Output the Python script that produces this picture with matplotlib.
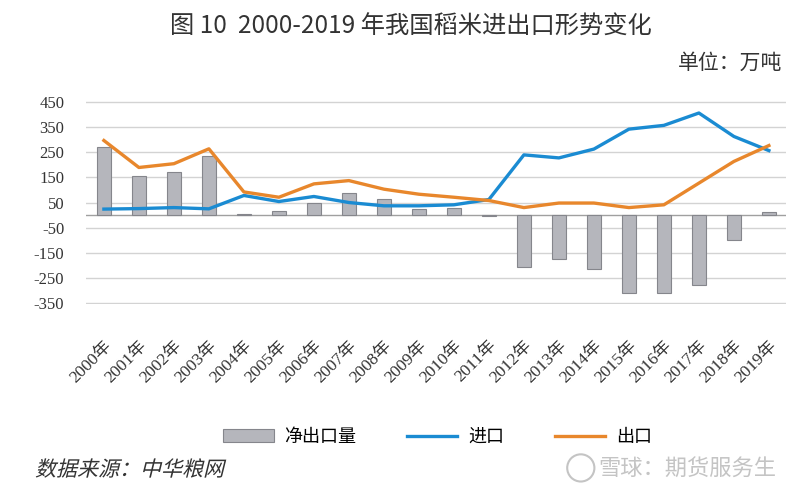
import numpy as np
import matplotlib
matplotlib.use('Agg')
import matplotlib.pyplot as plt
from matplotlib.textpath import TextPath
from matplotlib.patches import PathPatch, Ellipse
from matplotlib.font_manager import FontProperties
from matplotlib.transforms import Affine2D, IdentityTransform

plt.rcParams['font.family'] = ['Liberation Serif', 'Noto Sans CJK SC', 'DejaVu Sans']

years = ['2000年', '2001年', '2002年', '2003年', '2004年', '2005年', '2006年',
         '2007年', '2008年', '2009年', '2010年', '2011年', '2012年', '2013年',
         '2014年', '2015年', '2016年', '2017年', '2018年', '2019年']
net_export = [272, 156, 173, 233, 5, 17, 49, 87, 65, 25,
              28, -5, -206, -175, -214, -307, -307, -277, -98, 14]
imports = [24, 26, 30, 25, 78, 54, 74, 50, 37, 37,
           41, 62, 239, 227, 262, 341, 356, 405, 312, 256]
exports = [296, 189, 204, 263, 92, 71, 124, 137, 103, 83,
           71, 58, 30, 48, 48, 30, 41, 127, 213, 276]
yticks = [450, 350, 250, 150, 50, -50, -150, -250, -350]

fig = plt.figure(figsize=(8, 4.91), dpi=100)
ax = fig.add_axes([0.108, 0.380, 0.875, 0.415])

x = np.arange(len(years))
ax.bar(x, net_export, width=0.4, color='#b5b6bc', edgecolor='#85868c', linewidth=0.8,
       label='净出口量', zorder=2)
ax.plot(x, imports, color='#1a8bd2', lw=2.4, label='进口', zorder=3)
ax.plot(x, exports, color='#e8872c', lw=2.4, label='出口', zorder=3)

ax.set_xlim(-0.5, len(years) - 0.5)
ax.set_ylim(-354, 454)
ax.set_yticks(yticks)
ax.set_yticklabels([str(v) for v in yticks], fontsize=12, color='#333333')
ax.grid(axis='y', color='#d3d3d3', lw=1, zorder=0)
ax.axhline(0, color='#a0a0a0', lw=1, zorder=1)
for s in ax.spines.values():
    s.set_visible(False)
ax.tick_params(axis='both', length=0)
ax.tick_params(axis='y', pad=16)
ax.set_xticks(x)
ax.set_xticklabels(years, rotation=45, ha='right', rotation_mode='anchor',
                   fontsize=12.5, color='#333333')
ax.tick_params(axis='x', pad=24)

fig.text(0.514, 0.945, '图 10  2000-2019 年我国稻米进出口形势变化', ha='center', va='center',
         fontsize=17.5, color='#333333', family=['Noto Sans CJK SC'])
fig.text(0.978, 0.873, '单位：万吨', ha='right', va='center', fontsize=15,
         color='#333333', family=['Noto Sans CJK SC'])

handles, labels = ax.get_legend_handles_labels()
order = [2, 0, 1]
fig.legend([handles[i] for i in order], [labels[i] for i in order],
           loc='center', bbox_to_anchor=(0.547, 0.11), ncol=3, frameon=False,
           prop={'family': 'Noto Sans CJK SC', 'size': 13}, handlelength=2.8,
           columnspacing=2.8, handletextpad=0.6)

# italic source note (CJK font has no italic, so skew the glyph outlines)
src = TextPath((0, 0), '数据来源：中华粮网', size=21,
               prop=FontProperties(family='Noto Sans CJK SC'))
fig.add_artist(PathPatch(src, transform=Affine2D().skew_deg(14, 0).translate(35, 15)
                         + IdentityTransform(), fc='#333333', ec='none'))

fig.text(0.97, 0.045, '雪球：期货服务生', ha='right', va='center', fontsize=16,
         color='#c4c4c4', family=['Noto Sans CJK SC'])
fig.add_artist(Ellipse((0.726, 0.047), 0.034, 0.034 * 800 / 491,
                       transform=fig.transFigure, fill=False, ec='#c4c4c4', lw=1.5))

fig.savefig('out.png', dpi=100)
